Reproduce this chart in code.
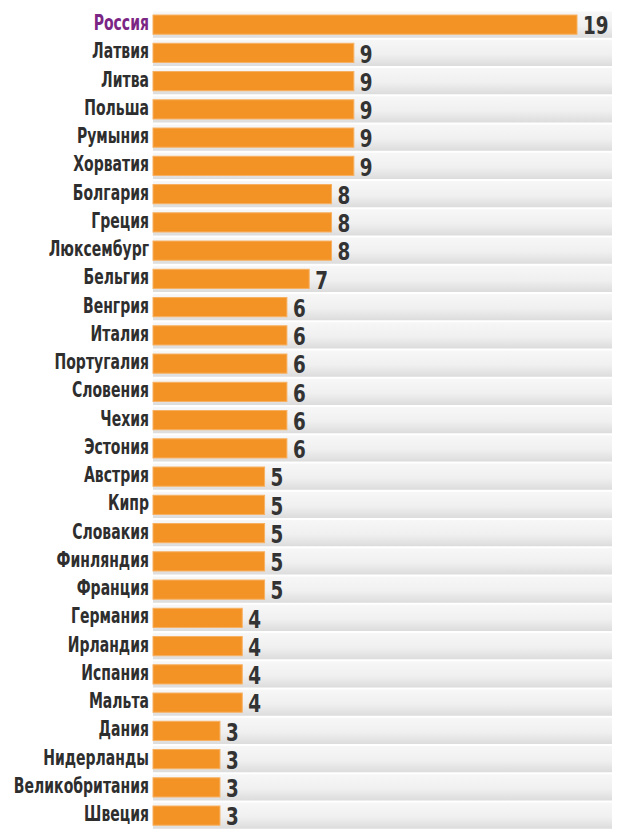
<!DOCTYPE html>
<html>
<head>
<meta charset="utf-8">
<script src="https://cdn.jsdelivr.net/npm/d3@7"></script>
<style>
  html, body { margin: 0; padding: 0; background: #fff; }
  svg { display: block; }
  .name { font-family: 'DejaVu Sans Condensed', 'DejaVu Sans', sans-serif; font-weight: bold; font-size: 21.5px; fill: #2e2e2e; }
  .name.hl { fill: #7b2585; }
  .val { font-family: 'DejaVu Sans Condensed', 'DejaVu Sans', sans-serif; font-weight: bold; font-size: 24px; fill: #333; }
</style>
</head>
<body>
<div id="chart"></div>
<script>
var countries = ['Россия', 'Латвия', 'Литва', 'Польша', 'Румыния', 'Хорватия',
  'Болгария', 'Греция', 'Люксембург', 'Бельгия', 'Венгрия', 'Италия',
  'Португалия', 'Словения', 'Чехия', 'Эстония', 'Австрия', 'Кипр',
  'Словакия', 'Финляндия', 'Франция', 'Германия', 'Ирландия', 'Испания',
  'Мальта', 'Дания', 'Нидерланды', 'Великобритания', 'Швеция'];
var values = [19, 9, 9, 9, 9, 9, 8, 8, 8, 7, 6, 6, 6, 6, 6, 6, 5, 5, 5, 5, 5,
  4, 4, 4, 4, 3, 3, 3, 3];
var highlight = 'Россия';

var data = countries.map(function(c, i) {
  return { name: c, value: values[i] };
});

var width = 625,
  height = 829,
  barLeft = 153,
  stripeRight = 612,
  nameSqueeze = 0.725, // condensed look of the original lettering
  valSqueeze = 0.85;

var svg = d3
  .select('#chart')
  .append('svg')
  .attr('width', width)
  .attr('height', height);

var x = d3
  .scaleLinear()
  .domain([0, 19])
  .range([barLeft, 577]);

var y = d3
  .scaleBand()
  .domain(countries)
  .range([10.5, 10.5 + 29 * 28.25])
  .paddingInner(0.32)
  .paddingOuter(0.16);

var defs = svg.append('defs');
var grad = defs
  .append('linearGradient')
  .attr('id', 'stripe')
  .attr('x1', 0)
  .attr('y1', 0)
  .attr('x2', 0)
  .attr('y2', 1);
grad.append('stop').attr('offset', '0%').attr('stop-color', '#f7f7f7');
grad.append('stop').attr('offset', '55%').attr('stop-color', '#f0f0f0');
grad.append('stop').attr('offset', '100%').attr('stop-color', '#dcdcdc');

var step = y.step();

// grey row stripes
svg
  .append('g')
  .selectAll('rect')
  .data(data)
  .enter()
  .append('rect')
  .attr('x', barLeft)
  .attr('y', function(d) {
    return y(d.name) - step * 0.16 + 1;
  })
  .attr('width', stripeRight - barLeft)
  .attr('height', step - 2)
  .attr('fill', 'url(#stripe)');

// bars
svg
  .append('g')
  .selectAll('rect')
  .data(data)
  .enter()
  .append('rect')
  .attr('x', x(0))
  .attr('y', function(d) {
    return y(d.name);
  })
  .attr('width', function(d) {
    return x(d.value) - x(0);
  })
  .attr('height', y.bandwidth())
  .attr('fill', '#f39325')
  .attr('stroke', '#f7b062')
  .attr('stroke-width', 1);

// country names
svg
  .append('g')
  .selectAll('text')
  .data(data)
  .enter()
  .append('text')
  .attr('class', function(d) {
    return d.name === highlight ? 'name hl' : 'name';
  })
  .attr('transform', function(d) {
    var cy = y(d.name) + y.bandwidth() / 2;
    return 'translate(' + (barLeft - 4) + ',' + cy + ') scale(' + nameSqueeze + ',1)';
  })
  .attr('dy', '0.25em')
  .attr('text-anchor', 'end')
  .text(function(d) {
    return d.name;
  });

// value labels
svg
  .append('g')
  .selectAll('text')
  .data(data)
  .enter()
  .append('text')
  .attr('class', 'val')
  .attr('transform', function(d) {
    var cy = y(d.name) + y.bandwidth() / 2 + 1;
    return 'translate(' + (x(d.value) + 6) + ',' + cy + ') scale(' + valSqueeze + ',1)';
  })
  .attr('dy', '0.36em')
  .text(function(d) {
    return d.value;
  });
</script>
</body>
</html>
